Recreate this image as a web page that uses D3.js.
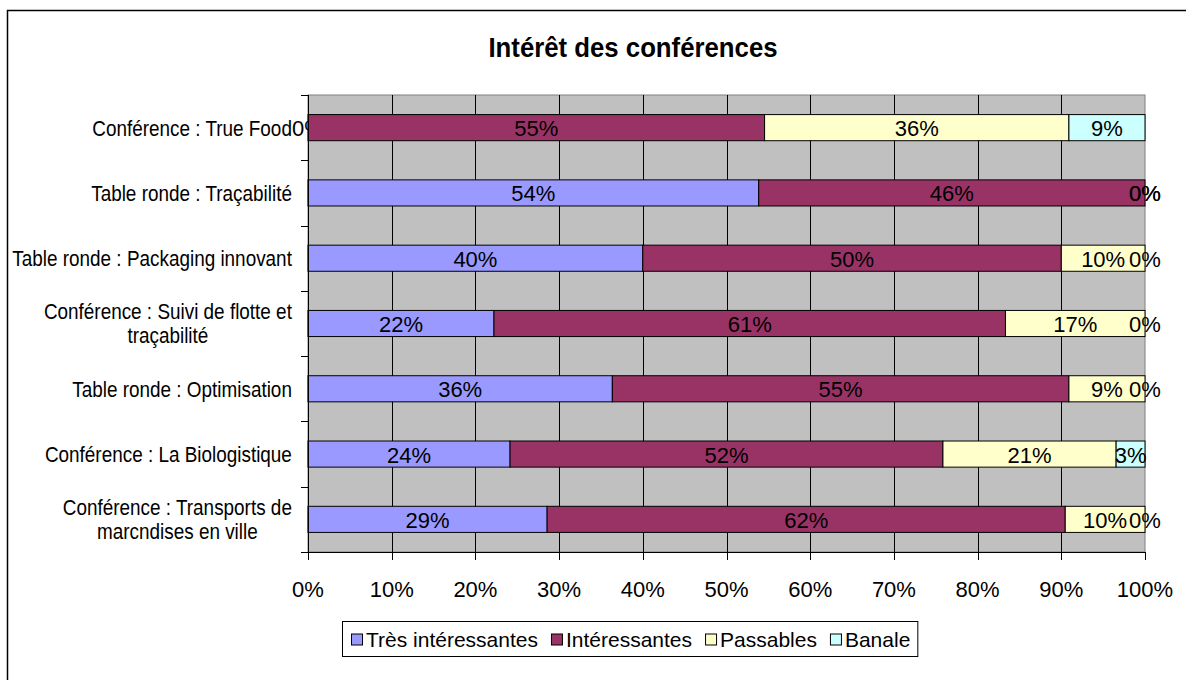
<!DOCTYPE html>
<html>
<head>
<meta charset="utf-8">
<script src="https://cdn.jsdelivr.net/npm/d3@7"></script>
<style>
  body { margin: 0; background: #fff; }
  text { font-family: "Liberation Sans", Arial, sans-serif; fill: #000; }
</style>
</head>
<body>
<div id="container"></div>
<script>
/* data (percent of answers) */
var categories = [
  "Conférence : True Food",
  "Table ronde : Traçabilité",
  "Table ronde : Packaging innovant",
  "Conférence : Suivi de flotte et traçabilité",
  "Table ronde : Optimisation",
  "Conférence : La Biologistique",
  "Conférence : Transports de marcndises en ville"
];
var seriesNames = ["Très intéressantes", "Intéressantes", "Passables", "Banale"];
var tresInteressantes = [0, 53.85, 40, 22.22, 36.36, 24.14, 28.57];
var interessantes     = [54.55, 46.15, 50, 61.11, 54.55, 51.72, 61.90];
var passables         = [36.36, 0, 10, 16.67, 9.09, 20.69, 9.53];
var banale            = [9.09, 0, 0, 0, 0, 3.45, 0];
var xTicks = [0, 10, 20, 30, 40, 50, 60, 70, 80, 90, 100];
var colors = ["#9999ff", "#993366", "#ffffcc", "#ccffff"];
var title = "Intérêt des conférences";

/* layout */
var W = 1186, H = 680;
var plot = { left: 308, right: 1145, top: 95, bottom: 552 };

var svg = d3.select("#container")
            .append("svg")
            .attr("width", W)
            .attr("height", H)

// squeeze text horizontally around its anchor (the original font is narrow)
function squeeze(sel, ax, k) {
  sel.attr("transform", "translate(" + ax + ",0) scale(" + k + ",1) translate(" + (-ax) + ",0)")
}

// chart frame (runs past the picture on the right and bottom)
svg.append("rect")
   .attr("x", 7.5).attr("y", 10.5)
   .attr("width", 1300).attr("height", 720)
   .attr("fill", "#fff")
   .attr("stroke", "#000")
   .attr("stroke-width", 1.5)

svg.append("text")
   .attr("x", 633).attr("y", 57)
   .attr("text-anchor", "middle")
   .style("font-weight", "bold")
   .style("font-size", "28px")
   .text(title)
   .call(squeeze, 633, 0.92)

var x = d3.scaleLinear().domain([0, 100]).range([plot.left, plot.right])
var y = d3.scaleBand()
          .domain(categories)
          .range([plot.top, plot.bottom])
          .paddingInner(0.6)
          .paddingOuter(0.3)

// plot background + gridlines
svg.append("rect")
   .attr("x", plot.left).attr("y", plot.top)
   .attr("width", plot.right - plot.left)
   .attr("height", plot.bottom - plot.top)
   .attr("fill", "#c0c0c0")
   .attr("stroke", "#808080")

svg.append("g")
   .selectAll("line")
   .data(xTicks.slice(1, -1))
   .enter().append("line")
     .attr("x1", function(d) { return Math.round(x(d)) + 0.5 })
     .attr("x2", function(d) { return Math.round(x(d)) + 0.5 })
     .attr("y1", plot.top).attr("y2", plot.bottom)
     .attr("stroke", "#000")

/* stacked bars */
var rows = categories.map(function(c, i) {
  return {
    cat: c,
    "Très intéressantes": tresInteressantes[i],
    "Intéressantes": interessantes[i],
    "Passables": passables[i],
    "Banale": banale[i]
  }
})
var stacked = d3.stack().keys(seriesNames)(rows)

var layers = svg.selectAll(".layer")
  .data(stacked)
  .enter().append("g")
    .attr("class", "layer")
    .attr("fill", function(d, i) { return colors[i] })

layers.selectAll("rect")
  .data(function(d) { return d })
  .enter().append("rect")
    .attr("x", function(d) { return x(d[0]) })
    .attr("y", function(d) { return y(d.data.cat) })
    .attr("width", function(d) { return x(d[1]) - x(d[0]) })
    .attr("height", y.bandwidth())
    .attr("stroke", "#000")
    .attr("stroke-width", 1)
    .attr("display", function(d) { return d[1] - d[0] > 0 ? null : "none" })

// value labels, centred on each segment (zero ones too, like the original)
layers.selectAll("text")
  .data(function(d) { return d })
  .enter().append("text")
    .attr("x", function(d) { return x((d[0] + d[1]) / 2) })
    .attr("y", function(d) { return y(d.data.cat) + y.bandwidth() / 2 + 8.5 })
    .attr("text-anchor", "middle")
    .style("font-size", "22px")
    .style("fill", "#000")
    .text(function(d) { return Math.round(d[1] - d[0]) + "%" })

/* axes */
var xAxis = svg.append("g")
svg.append("line")
   .attr("x1", plot.left).attr("x2", plot.right)
   .attr("y1", plot.bottom + 0.5).attr("y2", plot.bottom + 0.5)
   .attr("stroke", "#000")
xAxis.selectAll("line")
  .data(xTicks)
  .enter().append("line")
    .attr("x1", function(d) { return Math.round(x(d)) + 0.5 })
    .attr("x2", function(d) { return Math.round(x(d)) + 0.5 })
    .attr("y1", plot.bottom).attr("y2", plot.bottom + 8)
    .attr("stroke", "#000")
xAxis.selectAll("text")
  .data(xTicks)
  .enter().append("text")
    .attr("x", function(d) { return x(d) })
    .attr("y", 597)
    .attr("text-anchor", "middle")
    .style("font-size", "22px")
    .text(function(d) { return d + "%" })

svg.append("line")
   .attr("x1", plot.left + 0.5).attr("x2", plot.left + 0.5)
   .attr("y1", plot.top).attr("y2", plot.bottom)
   .attr("stroke", "#000")
var edges = d3.range(categories.length + 1).map(function(i) {
  return plot.top + i * y.step()
})
svg.append("g").selectAll("line")
   .data(edges)
   .enter().append("line")
     .attr("x1", plot.left - 7).attr("x2", plot.left)
     .attr("y1", function(d) { return Math.round(d) + 0.5 })
     .attr("y2", function(d) { return Math.round(d) + 0.5 })
     .attr("stroke", "#000")

// category labels, wrapped like Excel does (lines centred, block right aligned)
var labelRight = 292, squeezeK = 0.86, wrapWidth = 285 / squeezeK, lineH = 24
var catG = svg.append("g")
categories.forEach(function(c) {
  var t = catG.append("text").style("font-size", "22px")
  var words = c.split(" "), lines = [], cur = ""
  words.forEach(function(w) {
    var test = cur ? cur + " " + w : w
    t.text(test)
    if (t.node().getComputedTextLength() > wrapWidth && cur) {
      lines.push(cur)
      cur = w
    } else {
      cur = test
    }
  })
  lines.push(cur)
  var widths = lines.map(function(l) { t.text(l); return t.node().getComputedTextLength() })
  var maxW = d3.max(widths) * squeezeK
  t.text(null)
  var cx = labelRight - maxW / 2
  var cy = y(c) + y.bandwidth() / 2
  var y0 = cy - (lines.length - 1) * lineH / 2 + 8
  t.attr("text-anchor", "middle").call(squeeze, cx, squeezeK)
  lines.forEach(function(l, i) {
    t.append("tspan")
     .attr("x", cx)
     .attr("y", y0 + i * lineH)
     .text(l)
  })
})

/* legend */
var legend = svg.append("g")
var lx = 351, ly = 639.5, box = 11, gap = 13
var items = legend.selectAll("g")
  .data(seriesNames)
  .enter().append("g")
items.append("rect")
  .attr("width", box).attr("height", box)
  .attr("y", ly - box / 2)
  .attr("fill", function(d, i) { return colors[i] })
  .attr("stroke", "#000")
items.append("text")
  .attr("y", 646.5)
  .style("font-size", "21px")
  .text(function(d) { return d })
items.each(function() {
  var g = d3.select(this)
  g.select("rect").attr("x", lx + 0.5)
  g.select("text").attr("x", lx + box + 4)
  lx += box + 4 + g.select("text").node().getComputedTextLength() + gap
})
legend.insert("rect", ":first-child")
  .attr("x", 342.5).attr("y", 621.5)
  .attr("width", lx - gap + 7 - 342).attr("height", 35)
  .attr("fill", "#fff")
  .attr("stroke", "#000")
</script>
</body>
</html>
